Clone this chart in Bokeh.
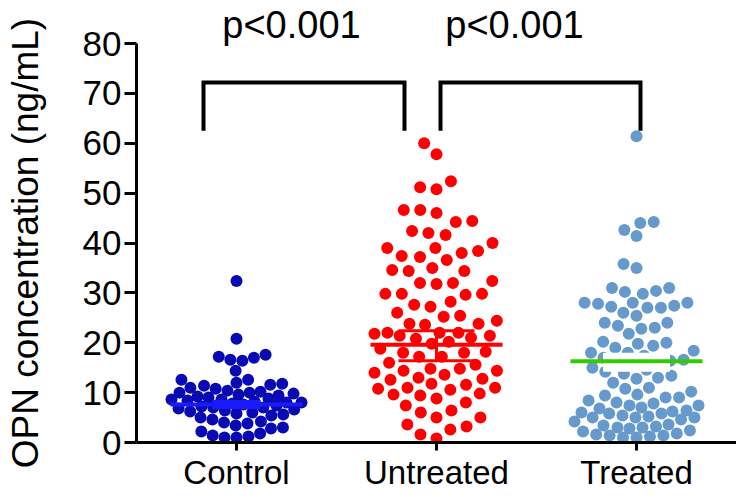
import math
from bokeh.plotting import figure
from bokeh.models import Range1d, FixedTicker
from bokeh.core.properties import value
from bokeh.embed import file_html
from bokeh.resources import INLINE

# ---------------- data ----------------
categories = ["Control", "Untreated", "Treated"]

control = [32.4, 20.8, 17.6, 17.2, 17.0, 16.6, 16.4, 14.4, 12.6, 12.6, 12.0, 11.8,
           11.6, 11.4, 11.0, 10.8, 10.4, 10.2, 10.0, 10.0, 9.8, 9.6, 9.4, 9.2, 9.0,
           8.8, 8.6, 8.6, 8.4, 8.2, 8.0, 8.0, 7.8, 7.6, 7.4, 7.2, 7.0, 7.0, 6.8, 6.6,
           6.4, 6.2, 6.0, 5.8, 5.6, 5.4, 5.0, 4.6, 4.2, 4.0, 3.8, 3.4, 3.0, 2.8, 2.2,
           1.8, 1.4, 1.2, 1.0, 1.0]

untreated = [60.0, 57.8, 52.4, 51.2, 50.8, 46.6, 46.6, 46.0, 44.4, 44.2, 42.4, 42.0,
             41.6, 40.0, 39.0, 39.0, 38.4, 38.0, 37.4, 37.2, 36.6, 35.0, 34.6, 34.4,
             34.4, 32.4, 32.0, 32.0, 31.8, 29.8, 29.8, 29.8, 29.6, 28.2, 27.6, 27.2,
             26.0, 25.4, 25.2, 24.4, 23.8, 23.8, 23.6, 22.0, 22.0, 22.0, 21.8, 21.4,
             21.4, 21.0, 20.8, 20.2, 19.8, 18.8, 18.2, 18.0, 18.0, 17.2, 17.2, 16.0,
             15.6, 14.8, 14.8, 14.4, 14.4, 14.0, 13.6, 13.0, 12.8, 12.6, 11.8, 11.6,
             11.0, 11.0, 10.8, 10.6, 9.8, 9.6, 9.4, 8.8, 8.0, 7.4, 6.4, 6.0, 5.0, 5.0,
             3.6, 3.2, 2.6, 1.6, 0.8]

treated = [61.4, 44.0, 44.2, 42.6, 41.4, 35.8, 35.0, 31.0, 31.0, 30.4, 30.2, 29.8,
           28.0, 28.0, 28.0, 27.8, 27.4, 27.2, 27.0, 27.0, 26.0, 25.4, 24.0, 24.0,
           23.4, 23.0, 22.8, 21.8, 20.2, 20.0, 19.8, 19.4, 19.0, 18.4, 18.0, 18.0,
           17.4, 17.0, 16.6, 16.4, 16.4, 16.0, 15.6, 15.0, 14.6, 14.2, 13.8, 13.4,
           13.0, 12.8, 12.0, 11.0, 10.8, 10.2, 9.6, 9.4, 9.0, 9.0, 8.4, 8.0, 7.8, 7.4,
           7.4, 7.0, 6.8, 6.4, 6.2, 6.0, 5.8, 5.8, 5.4, 5.2, 5.0, 5.0, 5.0, 4.6, 4.2,
           3.6, 3.4, 3.2, 3.0, 3.0, 2.8, 2.4, 2.2, 1.8, 1.6, 1.4, 1.4, 1.2, 1.0, 1.0]

center_line = [7.6, 19.6, 16.3]
err_low = [7.0, 16.4, 14.3]
err_high = [8.2, 22.4, 17.9]

y_ticks = [0, 10, 20, 30, 40, 50, 60, 70, 80]
y_title = "OPN concentration (ng/mL)"
p_labels = ["p<0.001", "p<0.001"]

point_colors = ["#0a0ab4", "#ff0000", "#6699cc"]
line_colors = ["#1a1aff", "#ff0000", "#33cc00"]

# ---------------- layout constants ----------------
XPX = 200.0                      # px per category
LEFT_PX = 136                    # space left of the y axis
ZERO_PX = 442                    # y pixel of value 0
FRAME_W, FRAME_H = 736, 492
X0 = 0.5 - LEFT_PX / XPX
X1 = X0 + FRAME_W / XPX
YPX = 399 / 80.0
Y1 = ZERO_PX / YPX
Y0 = Y1 - FRAME_H / YPX
DOT = 12
FONT = "Liberation Sans"
SPACING = [12.0, 16.5, 13.5]     # beeswarm spacing (px) per group
HALF_W = [65, 62, 62]            # max half width of a swarm (px)


def swarm(vals, d, W):
    """Beeswarm offsets in pixels; values placed in ascending order,
    overlapping only when the column would become wider than W."""
    placed = []
    out = [0.0] * len(vals)
    grid = [float(k) for k in range(-int(W), int(W) + 1)]
    for i in sorted(range(len(vals)), key=lambda k: vals[k]):
        y = vals[i] * YPX
        near = [(px, py) for px, py in placed if abs(py - y) < d]
        cands = [0.0] + grid
        for px, py in near:
            dx = (d * d - (y - py) ** 2) ** 0.5
            cands += [px - dx, px + dx]
        cands = [c for c in cands if abs(c) <= W]

        def score(c):
            if not near:
                return d
            m = min(((c - px) ** 2 + (y - py) ** 2) ** 0.5 for px, py in near)
            return min(d, m)

        best = max(cands, key=lambda c: (round(score(c), 3), -abs(c), -c))
        placed.append((best, y))
        out[i] = best
    return out


p = figure(frame_width=FRAME_W, frame_height=FRAME_H,
           x_range=Range1d(X0, X1), y_range=Range1d(Y0, Y1),
           output_backend="svg", toolbar_location=None,
           min_border_left=0, min_border_right=0, min_border_top=0,
           min_border_bottom=0)
p.outline_line_color = None
p.xgrid.visible = False
p.ygrid.visible = False
p.background_fill_color = "white"

groups = [control, untreated, treated]
for gi, vals in enumerate(groups):
    offs = swarm(vals, SPACING[gi], HALF_W[gi])
    xs = [gi + 1 + o / XPX for o in offs]
    p.scatter(xs, vals, size=DOT, fill_color=point_colors[gi], line_color=None)

# summary lines (mean with error bars)
for gi in range(3):
    c = gi + 1
    if gi == 2:
        p.quad(left=c - 0.165, right=c + 0.165, bottom=err_low[gi], top=err_high[gi],
               fill_color="white", line_color="white")
    else:
        hw = 0.19 if gi == 1 else 0.12
        p.segment(x0=[c - hw, c - hw, c], x1=[c + hw, c + hw, c],
                  y0=[err_low[gi], err_high[gi], err_low[gi]],
                  y1=[err_low[gi], err_high[gi], err_high[gi]],
                  line_color=line_colors[gi], line_width=3)
    p.segment(x0=[c - 0.33], x1=[c + 0.33], y0=[center_line[gi]], y1=[center_line[gi]],
              line_color=line_colors[gi], line_width=4)

# significance brackets
b_low, b_high = 62.5, 72.2
brackets = [(1 - 0.165, 2 - 0.16), (2 + 0.02, 3 + 0.02)]
text_x = [1.275, 2.39]
for (xa, xb), lab, tx in zip(brackets, p_labels, text_x):
    p.line([xa, xa, xb, xb], [b_low, b_high, b_high, b_low], line_color="black",
           line_width=4, line_join="miter")
    p.text(x=[tx], y=[83.8], text=[lab], text_align="center",
           text_baseline="middle", text_font=value(FONT), text_font_size="38px",
           text_color="black")

# y-axis title, centred on the 0-80 axis span
p.text(x=[X0 + 25 / XPX], y=[40], text=[y_title], angle=math.pi / 2,
       text_align="center", text_baseline="middle", text_font=value(FONT),
       text_font_size="37px", text_color="black")

# axes (drawn at fixed positions inside the frame)
p.yaxis.fixed_location = 0.5
p.yaxis.bounds = (0, 80)
p.yaxis.ticker = FixedTicker(ticks=y_ticks)
p.xaxis.fixed_location = 0
p.xaxis.bounds = (0.5, 3.5)
p.xaxis.ticker = FixedTicker(ticks=[1, 2, 3])
p.xaxis.major_label_overrides = {i + 1: c for i, c in enumerate(categories)}
for ax in (p.xaxis, p.yaxis):
    ax.axis_line_width = 3
    ax.axis_line_color = "black"
    ax.major_tick_line_width = 3
    ax.major_tick_line_color = "black"
    ax.major_tick_in = 0
    ax.minor_tick_line_color = None
    ax.major_label_text_font = FONT
    ax.major_label_text_color = "black"
p.yaxis.major_label_text_font_size = "35px"
p.xaxis.major_label_text_font_size = "33px"
p.yaxis.major_tick_out = 12
p.yaxis.major_label_standoff = 3
p.xaxis.major_tick_out = 8
p.xaxis.major_label_standoff = 3

open("out.html", "w").write(file_html(p, INLINE))
